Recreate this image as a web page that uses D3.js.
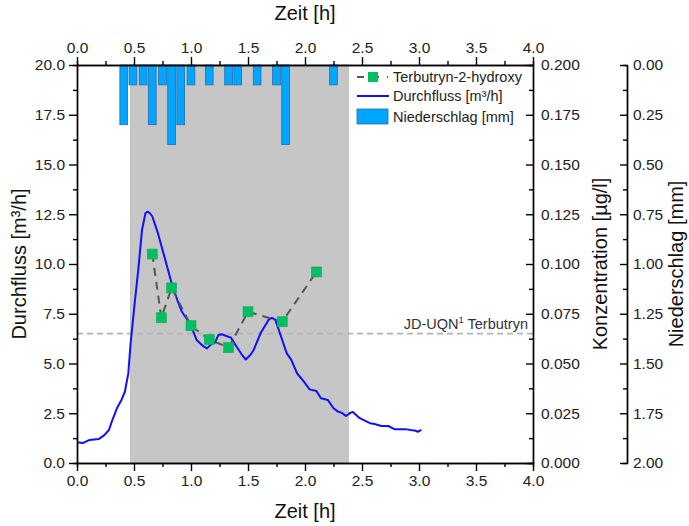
<!DOCTYPE html>
<html>
<head>
<meta charset="utf-8">
<script src="https://cdn.jsdelivr.net/npm/d3@7"></script>
<style>
  body { margin: 0; background: #fff; }
  svg { font-family: "Liberation Sans", Arial, sans-serif; }
  .axis path, .axis line { stroke: #000; stroke-width: 1.4; }
  .axis text { font-size: 15.5px; fill: #222; font-family: "Liberation Sans", Arial, sans-serif; }
  .title { font-size: 20px; fill: #111; }
  .legend text { font-size: 14.5px; fill: #222; }
</style>
</head>
<body>
<figure id="chart" style="margin:0"></figure>
<script>
// Durchfluss (flow) line
const flowTime = [0.0, 0.05, 0.11, 0.19, 0.24, 0.28, 0.31, 0.35, 0.39, 0.42, 0.45, 0.47, 0.50, 0.54, 0.57, 0.60, 0.62, 0.64, 0.66, 0.71, 0.77, 0.83, 0.89, 0.92, 0.98, 1.01, 1.05, 1.10, 1.14, 1.18, 1.21, 1.24, 1.27, 1.31, 1.35, 1.40, 1.44, 1.48, 1.52, 1.55, 1.61, 1.68, 1.71, 1.74, 1.78, 1.84, 1.88, 1.93, 1.99, 2.04, 2.10, 2.14, 2.20, 2.25, 2.29, 2.32, 2.36, 2.40, 2.42, 2.48, 2.57, 2.61, 2.67, 2.73, 2.79, 2.89, 2.97, 2.99, 3.02];
const flowValues = [1.04, 1.0, 1.16, 1.2, 1.4, 1.66, 2.16, 2.75, 3.17, 3.58, 4.5, 6.0, 7.7, 9.86, 11.7, 12.55, 12.63, 12.55, 12.4, 11.55, 10.3, 9.03, 8.03, 7.6, 7.1, 6.75, 6.18, 5.9, 5.76, 5.98, 6.05, 6.43, 6.47, 6.38, 6.3, 5.84, 5.5, 5.2, 5.43, 5.68, 6.52, 7.19, 7.3, 7.19, 6.52, 5.51, 5.18, 4.51, 4.09, 3.7, 3.62, 3.25, 3.17, 2.75, 2.58, 2.53, 2.36, 2.53, 2.56, 2.25, 2.0, 1.96, 1.86, 1.86, 1.69, 1.69, 1.62, 1.57, 1.66];

// Terbutryn-2-hydroxy samples
const concTime = [0.66, 0.74, 0.83, 1.0, 1.16, 1.33, 1.5, 1.8, 2.1];
const concValues = [0.105, 0.073, 0.088, 0.069, 0.062, 0.058, 0.076, 0.071, 0.096];

// Niederschlag (rain) bars
const rainTime = [0.41, 0.49, 0.58, 0.66, 0.75, 0.83, 0.91, 1.0, 1.16, 1.33, 1.41, 1.58, 1.75, 1.83, 2.25];
const rainValues = [0.3, 0.1, 0.1, 0.3, 0.1, 0.4, 0.3, 0.1, 0.1, 0.1, 0.1, 0.1, 0.1, 0.4, 0.1];
const rainBarWidth = 0.068;

// sampling window and threshold
const windowRange = [0.47, 2.38];
const thresholdConc = 0.065;
const thresholdLabel = "JD-UQN";

const timeTicks = [0, 0.5, 1, 1.5, 2, 2.5, 3, 3.5, 4];
const flowTicks = [0, 2.5, 5, 7.5, 10, 12.5, 15, 17.5, 20];
const concTicks = [0, 0.025, 0.05, 0.075, 0.1, 0.125, 0.15, 0.175, 0.2];
const rainTicks = [0, 0.25, 0.5, 0.75, 1, 1.25, 1.5, 1.75, 2];

const width = 689, height = 526;
const plotL = 77, plotR = 533, plotT = 65, plotB = 463;

const svg = d3.select("figure#chart")
  .append("svg")
  .attr("width", width)
  .attr("height", height);

const x = d3.scaleLinear().domain([0, 4]).range([plotL, plotR]);
const yQ = d3.scaleLinear().domain([0, 20]).range([plotB, plotT]);
const yC = d3.scaleLinear().domain([0, 0.2]).range([plotB, plotT]);
const yN = d3.scaleLinear().domain([0, 2]).range([plotT, plotB]);

// midpoints between major ticks -> minor ticks
const halves = arr => arr.slice(1).map((v, i) => (v + arr[i]) / 2);

// gray sampling window
svg.append("rect")
  .attr("x", x(windowRange[0]))
  .attr("y", plotT)
  .attr("width", x(windowRange[1]) - x(windowRange[0]))
  .attr("height", plotB - plotT)
  .attr("fill", "#c6c6c6")
  .attr("stroke", "#b8b8b8")
  .attr("stroke-width", 0.8);

// threshold line
svg.append("line")
  .attr("x1", plotL).attr("x2", plotR)
  .attr("y1", yC(thresholdConc)).attr("y2", yC(thresholdConc))
  .attr("stroke", "#b4b4b4")
  .attr("stroke-width", 1.6)
  .attr("stroke-dasharray", "6,4");

const note = svg.append("text")
  .attr("x", plotR - 5)
  .attr("y", yC(thresholdConc) - 5)
  .attr("text-anchor", "end")
  .attr("font-size", "14.5px")
  .attr("fill", "#333");
note.append("tspan").text(thresholdLabel);
note.append("tspan").attr("font-size", "9.5px").attr("dy", -6).text("1");
note.append("tspan").attr("dy", 6).text(" Terbutryn");

// rain bars hanging from top
svg.selectAll("rect.rain")
  .data(rainTime.map((t, i) => ({t, v: rainValues[i]})))
  .enter()
  .append("rect")
  .attr("class", "rain")
  .attr("x", d => x(d.t - rainBarWidth / 2))
  .attr("y", yN(0))
  .attr("width", d => x(d.t + rainBarWidth / 2) - x(d.t - rainBarWidth / 2))
  .attr("height", d => yN(d.v) - yN(0))
  .attr("fill", "#00a6ff")
  .attr("stroke", "#2b6da6")
  .attr("stroke-width", 0.8);

// flow line
svg.append("path")
  .datum(flowTime.map((t, i) => [t, flowValues[i]]))
  .attr("fill", "none")
  .attr("stroke", "#1010ff")
  .attr("stroke-width", 2)
  .attr("stroke-linejoin", "round")
  .attr("d", d3.line().x(d => x(d[0])).y(d => yQ(d[1])));

// concentration dashed line + markers
const concData = concTime.map((t, i) => [t, concValues[i]]);
svg.append("path")
  .datum(concData)
  .attr("fill", "none")
  .attr("stroke", "#555")
  .attr("stroke-width", 2)
  .attr("stroke-dasharray", "8,6")
  .attr("d", d3.line().x(d => x(d[0])).y(d => yC(d[1])));

svg.selectAll("rect.conc")
  .data(concData)
  .enter()
  .append("rect")
  .attr("class", "conc")
  .attr("x", d => x(d[0]) - 5)
  .attr("y", d => yC(d[1]) - 5)
  .attr("width", 10)
  .attr("height", 10)
  .attr("fill", "#00c060")
  .attr("stroke", "#19a85a")
  .attr("stroke-width", 0.6);

// axes
function addAxis(axis, transform) {
  return svg.append("g").attr("class", "axis").attr("transform", transform).call(axis);
}

const fmt1 = d3.format(".1f");
addAxis(d3.axisBottom(x).tickValues(halves(timeTicks)).tickSize(4).tickFormat(""), `translate(0,${plotB})`);
addAxis(d3.axisBottom(x).tickValues(timeTicks).tickSizeInner(8).tickSizeOuter(0).tickPadding(4).tickFormat(fmt1), `translate(0,${plotB})`);
addAxis(d3.axisTop(x).tickValues(halves(timeTicks)).tickSize(4).tickFormat(""), `translate(0,${plotT})`);
addAxis(d3.axisTop(x).tickValues(timeTicks).tickSizeInner(8).tickSizeOuter(0).tickPadding(4).tickFormat(fmt1), `translate(0,${plotT})`);

addAxis(d3.axisLeft(yQ).tickValues(halves(flowTicks)).tickSize(4).tickFormat(""), `translate(${plotL},0)`);
addAxis(d3.axisLeft(yQ).tickValues(flowTicks).tickSizeInner(8).tickSizeOuter(0).tickPadding(4).tickFormat(fmt1), `translate(${plotL},0)`);

addAxis(d3.axisRight(yC).tickValues(halves(concTicks)).tickSize(-4).tickFormat(""), `translate(${plotR},0)`);
addAxis(d3.axisRight(yC).tickValues(concTicks).tickSizeInner(-7).tickSizeOuter(0).tickPadding(8).tickFormat(d3.format(".3f")), `translate(${plotR},0)`);

const rainX = 627;
addAxis(d3.axisRight(yN).tickValues(halves(rainTicks)).tickSize(-4).tickFormat(""), `translate(${rainX},0)`);
addAxis(d3.axisRight(yN).tickValues(rainTicks).tickSizeInner(-7).tickSizeOuter(0).tickPadding(6).tickFormat(d3.format(".2f")), `translate(${rainX},0)`);

// axis titles
const midY = (plotT + plotB) / 2;
svg.append("text").attr("class", "title").attr("x", (plotL + plotR) / 2).attr("y", 20).attr("text-anchor", "middle").text("Zeit [h]");
svg.append("text").attr("class", "title").attr("x", (plotL + plotR) / 2).attr("y", 518).attr("text-anchor", "middle").text("Zeit [h]");
svg.append("text").attr("class", "title").attr("transform", `translate(26,${midY}) rotate(-90)`).attr("text-anchor", "middle").text("Durchfluss [m³/h]");
svg.append("text").attr("class", "title").attr("transform", `translate(607,${midY}) rotate(-90)`).attr("text-anchor", "middle").text("Konzentration [µg/l]");
svg.append("text").attr("class", "title").attr("transform", `translate(683,${midY}) rotate(-90)`).attr("text-anchor", "middle").text("Niederschlag [mm]");

// legend
const legend = svg.append("g").attr("class", "legend").attr("transform", "translate(357,0)");
legend.append("line").attr("x1", 0).attr("x2", 31).attr("y1", 77).attr("y2", 77)
  .attr("stroke", "#555").attr("stroke-width", 2).attr("stroke-dasharray", "7,8");
legend.append("rect").attr("x", 11).attr("y", 72).attr("width", 10).attr("height", 10).attr("fill", "#00c060");
legend.append("text").attr("x", 36).attr("y", 82).text("Terbutryn-2-hydroxy");
legend.append("line").attr("x1", 0).attr("x2", 32).attr("y1", 96).attr("y2", 96).attr("stroke", "#1010ff").attr("stroke-width", 2);
legend.append("text").attr("x", 36).attr("y", 101).text("Durchfluss [m³/h]");
legend.append("rect").attr("x", 0).attr("y", 109).attr("width", 31).attr("height", 15)
  .attr("fill", "#00a6ff").attr("stroke", "#2b6da6").attr("stroke-width", 0.8);
legend.append("text").attr("x", 36).attr("y", 122).text("Niederschlag [mm]");
</script>
</body>
</html>
